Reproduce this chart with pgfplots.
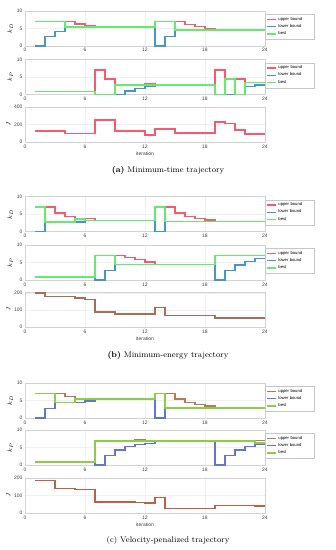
\documentclass[border=0pt]{standalone}
\usepackage{pgfplots}
\pgfplotsset{compat=1.18}
\usepackage{fontspec}
\setsansfont{Liberation Sans}
\definecolor{ubA}{RGB}{245,90,110}
\definecolor{lbA}{RGB}{70,150,200}
\definecolor{beA}{RGB}{100,235,110}
\definecolor{jB}{RGB}{165,110,90}
\definecolor{ubC}{RGB}{190,120,80}
\definecolor{lbC}{RGB}{100,115,215}
\definecolor{beC}{RGB}{140,205,70}
\definecolor{jC}{RGB}{190,95,70}
\pgfplotsset{
  sub/.style={scale only axis, width=240bp, height=35bp, anchor=north west,
    xmin=0, xmax=24, xtick={0,6,12,18,24},
    axis line style={gray!35, line width=0.4pt},
    grid=major, grid style={gray!12, line width=0.3pt},
    major tick length=0pt,
    ticklabel style={font=\sffamily\fontsize{5}{5}\selectfont, text=black!75},
    /pgf/number format/assume math mode=true,
    xticklabel style={yshift=1bp},
    yticklabel style={xshift=1bp},
    ylabel style={font=\fontsize{6.5}{7}\selectfont, yshift=-3bp},
    xlabel style={font=\sffamily\fontsize{5}{5}\selectfont, text=black!75, yshift=3bp},
    every axis plot/.append style={const plot, line width=1.4bp, line join=miter},
  },
  bst/.style={line width=1.5bp},
  leg/.style={legend style={at={(rel axis cs:1,1)}, anchor=north west, yshift=-3bp,
    draw=gray!45, line width=0.3pt, font=\sffamily\fontsize{4.2}{4.6}\selectfont,
    inner sep=1pt, row sep=-1.2pt, cells={anchor=west, text width=33bp}},
    legend image code/.code={\draw[##1, line width=1.3bp] (0bp,0bp) -- (9bp,0bp);}},
  kd/.style={ylabel={$k_D$}, ymin=0, ymax=10, ytick={0,5,10}},
  kp/.style={ylabel={$k_P$}, ymin=0, ymax=10, ytick={0,5,10}},
}
\begin{document}
\begin{tikzpicture}
\useasboundingbox (0,0) rectangle (336bp,-550bp);
% ===================== (a) =====================
\begin{axis}[sub, kd, leg, at={(25bp,-11bp)}]
\addplot[ubA] coordinates {(1,7)(5,6.3)(6,5.9)(7,5.4)(13,7)(16,6.2)(17,5.5)(18,5.0)(19,4.6)(24,4.6)};
\addplot[lbA] coordinates {(1,0)(2,2.7)(3,4.2)(4,5.4)(13,0)(14,2.8)(15,4.6)(24,4.6)};
\addplot[beA, bst] coordinates {(1,7)(4,5.4)(13,7)(15,4.6)(24,4.6)};
\legend{upper bound, lower bound, best}
\end{axis}
\begin{axis}[sub, kp, leg, at={(25bp,-59.5bp)}]
\addplot[ubA] coordinates {(1,0.9)(7,7)(8,4.4)(9,2.7)(12,3.1)(13,2.7)(19,7)(20,4.4)(22,3.5)(24,3.5)};
\addplot[lbA] coordinates {(1,0.9)(7,0)(10,1.0)(11,1.7)(12,2.4)(13,2.7)(19,0)(22,2.3)(23,2.7)(24,2.7)};
\addplot[beA, bst] coordinates {(1,0.9)(7,0)(9,2.7)(19,0)(20,4.4)(21,0)(22,3.5)(24,3.5)};
\legend{upper bound, lower bound, best}
\end{axis}
\begin{axis}[sub, at={(25bp,-107bp)}, ylabel={$J$}, ymin=0, ymax=400, ytick={0,200,400}, xlabel={iteration}]
\addplot[ubA] coordinates {(1,128)(4,98)(7,252)(9,124)(12,81)(13,148)(15,105)(19,229)(20,214)(21,136)(22,90)(24,90)};
\end{axis}
\node[font=\fontsize{8.2}{9}\selectfont] at (168bp,-170bp) {\textbf{(a)} Minimum-time trajectory};
% ===================== (b) =====================
\begin{axis}[sub, kd, leg, at={(25bp,-196.5bp)}]
\addplot[ubA] coordinates {(1,7)(3,5.3)(4,4.3)(5,3.6)(6,3.7)(7,3.1)(13,7)(15,5.3)(16,4.3)(17,3.7)(18,3.3)(19,2.8)(24,2.8)};
\addplot[lbA] coordinates {(1,0)(2,2.7)(6,3.1)(13,0)(14,2.8)(24,2.8)};
\addplot[beA, bst] coordinates {(1,7)(2,2.7)(5,3.6)(6,3.1)(13,7)(14,2.8)(24,2.8)};
\legend{upper bound, lower bound, best}
\end{axis}
\begin{axis}[sub, kp, leg, at={(25bp,-245bp)}]
\addplot[ubA] coordinates {(1,0.9)(7,7)(10,6.4)(11,5.8)(12,5.1)(13,4.4)(19,7)(24,7)};
\addplot[lbA] coordinates {(1,0.9)(7,0)(8,2.8)(9,4.4)(19,0)(20,2.8)(21,4.3)(22,5.3)(23,6.1)(24,6.1)};
\addplot[beA, bst] coordinates {(1,0.9)(7,7)(9,4.4)(19,7)(24,7)};
\legend{upper bound, lower bound, best}
\end{axis}
\begin{axis}[sub, at={(25bp,-292bp)}, ylabel={$J$}, ymin=0, ymax=205, ytick={0,100,200}, xlabel={iteration}]
\addplot[jB] coordinates {(1,198)(2,178)(5,170)(6,162)(7,88)(9,77)(13,113)(14,68)(19,53)(24,53)};
\end{axis}
\node[font=\fontsize{8.2}{9}\selectfont] at (168bp,-355bp) {\textbf{(b)} Minimum-energy trajectory};
% ===================== (c) =====================
\begin{axis}[sub, kd, leg, at={(25bp,-383bp)}]
\addplot[ubC] coordinates {(1,7)(4,6.2)(5,5.5)(13,7)(15,5.4)(16,4.4)(17,3.8)(18,3.4)(19,2.8)(24,2.8)};
\addplot[lbC] coordinates {(1,0)(2,2.8)(3,4.4)(6,4.9)(7,5.5)(13,0)(14,2.8)(24,2.8)};
\addplot[beC, bst] coordinates {(1,7)(3,4.4)(5,5.5)(13,7)(14,2.8)(24,2.8)};
\legend{upper bound, lower bound, best}
\end{axis}
\begin{axis}[sub, kp, leg, at={(25bp,-430bp)}]
\addplot[ubC] coordinates {(1,0.8)(7,6.8)(11,7.2)(12,6.8)(23,7.0)(24,7.0)};
\addplot[lbC] coordinates {(1,0.8)(7,0)(8,2.8)(9,4.3)(10,5.3)(11,5.9)(12,6.1)(13,6.8)(19,0)(20,2.8)(21,4.3)(22,5.3)(23,5.9)(24,5.9)};
\addplot[beC, bst] coordinates {(1,0.8)(7,6.8)(23,6.3)(24,6.3)};
\legend{upper bound, lower bound, best}
\end{axis}
\begin{axis}[sub, at={(25bp,-478bp)}, ylabel={$J$}, ymin=0, ymax=200, ytick={0,100,200}, xlabel={iteration}]
\addplot[jC] coordinates {(1,186)(3,141)(5,135)(7,63)(11,61)(12,57)(13,88)(14,27)(19,43)(23,40)(24,40)};
\end{axis}
\node[font=\fontsize{8.2}{9}\selectfont] at (168bp,-540bp) {(c) Velocity-penalized trajectory};
\end{tikzpicture}
\end{document}
